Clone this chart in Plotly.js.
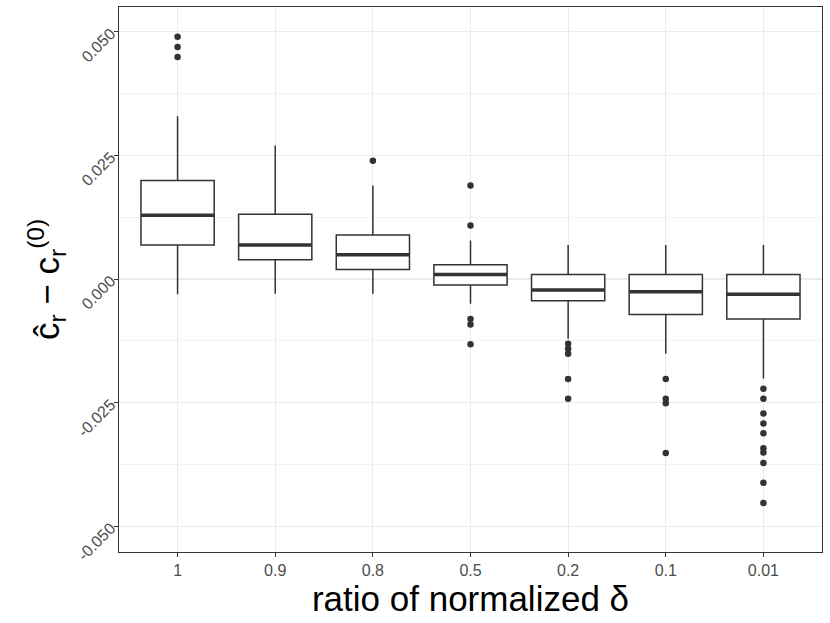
<!DOCTYPE html>
<html>
<head>
<meta charset="utf-8">
<script src="https://cdn.plot.ly/plotly-3.0.1.min.js"></script>
<style>html,body{margin:0;padding:0;background:#fff;}#chart{width:830px;height:623px;}</style>
</head>
<body>
<div id="chart"></div>
<script>
// ---- data ----
var categories = ["1", "0.9", "0.8", "0.5", "0.2", "0.1", "0.01"];
var q1 = [0.0069, 0.0039, 0.0019, -0.0012, -0.0044, -0.0072, -0.0081];
var medians = [0.0129, 0.0069, 0.0049, 0.0009, -0.0022, -0.0026, -0.0031];
var q3 = [0.0199, 0.0131, 0.0089, 0.0029, 0.0009, 0.0009, 0.0009];
var lowerWhisker = [-0.0031, -0.0030, -0.0030, -0.0050, -0.0121, -0.0151, -0.0201];
var upperWhisker = [0.0329, 0.0270, 0.0189, 0.0078, 0.0069, 0.0069, 0.0069];

var outliers_1 = [0.0490, 0.0469, 0.0449];
var outliers_09 = [];
var outliers_08 = [0.0239];
var outliers_05 = [0.0189, 0.0108, -0.0081, -0.0092, -0.0132];
var outliers_02 = [-0.0131, -0.0141, -0.0151, -0.0202, -0.0242];
var outliers_01 = [-0.0202, -0.0242, -0.0251, -0.0352];
var outliers_001 = [-0.0222, -0.0242, -0.0272, -0.0292, -0.0312, -0.0342, -0.0351, -0.0372, -0.0412, -0.0453];

var yTickVals = [-0.05, -0.025, 0, 0.025, 0.05];
var yTickText = ["-0.050", "-0.025", "0.000", "0.025", "0.050"];

// ---- build traces ----
var outlierGroups = [outliers_1, outliers_09, outliers_08, outliers_05, outliers_02, outliers_01, outliers_001];
var ox = [], oy = [];
outlierGroups.forEach(function (g, i) {
  g.forEach(function (v) { ox.push(categories[i]); oy.push(v); });
});

var dark = "#333333";

var boxTrace = {
  type: "box",
  x: categories,
  q1: q1, median: medians, q3: q3,
  lowerfence: lowerWhisker, upperfence: upperWhisker,
  boxpoints: false,
  width: 0.75,
  whiskerwidth: 0,
  fillcolor: "#ffffff",
  line: { color: dark, width: 1.5 },
  hoverinfo: "skip",
  showlegend: false
};

var medianTrace = {
  type: "box",
  x: categories,
  q1: medians, median: medians, q3: medians,
  lowerfence: medians, upperfence: medians,
  boxpoints: false,
  width: 0.75,
  whiskerwidth: 0,
  fillcolor: "rgba(0,0,0,0)",
  line: { color: dark, width: 3.5 },
  hoverinfo: "skip",
  showlegend: false
};

var outlierTrace = {
  type: "scatter",
  mode: "markers",
  x: ox, y: oy,
  marker: { color: dark, size: 6.5 },
  hoverinfo: "skip",
  showlegend: false
};

var layout = {
  width: 830, height: 623,
  margin: { l: 119, r: 8, t: 7, b: 71 },
  paper_bgcolor: "#ffffff",
  plot_bgcolor: "#ffffff",
  boxmode: "overlay",
  font: { family: "Liberation Sans, Arial, sans-serif", color: "#4D4D4D" },
  xaxis: {
    type: "category",
    categoryorder: "array",
    categoryarray: categories,
    range: [-0.6, 6.6],
    showgrid: true, gridcolor: "#EBEBEB", gridwidth: 1.1,
    zeroline: false,
    showline: true, linecolor: dark, linewidth: 1, mirror: true,
    ticks: "outside", ticklen: 4, tickcolor: dark, tickwidth: 1,
    tickfont: { size: 16, color: "#4D4D4D" },
    title: { text: "ratio of normalized δ", font: { size: 35, color: "#000000" }, standoff: 6 }
  },
  yaxis: {
    range: [-0.0552, 0.0550],
    tickmode: "array",
    tickvals: yTickVals,
    ticktext: yTickText,
    tickangle: -45,
    showgrid: true, gridcolor: "#EBEBEB", gridwidth: 1.1,
    minor: { tick0: 0, dtick: 0.0125, showgrid: true, gridcolor: "#EBEBEB", gridwidth: 0.6, ticks: "" },
    zeroline: false,
    showline: true, linecolor: dark, linewidth: 1, mirror: true,
    ticks: "outside", ticklen: 4, tickcolor: dark, tickwidth: 1,
    tickfont: { size: 16, color: "#4D4D4D" },
    title: { text: "ĉ<sub>r</sub> − c<sub>r</sub><sup>(0)</sup>", font: { size: 35, color: "#000000" }, standoff: 4 }
  }
};

Plotly.newPlot("chart", [boxTrace, medianTrace, outlierTrace], layout, { displayModeBar: false, staticPlot: true });
</script>
</body>
</html>
